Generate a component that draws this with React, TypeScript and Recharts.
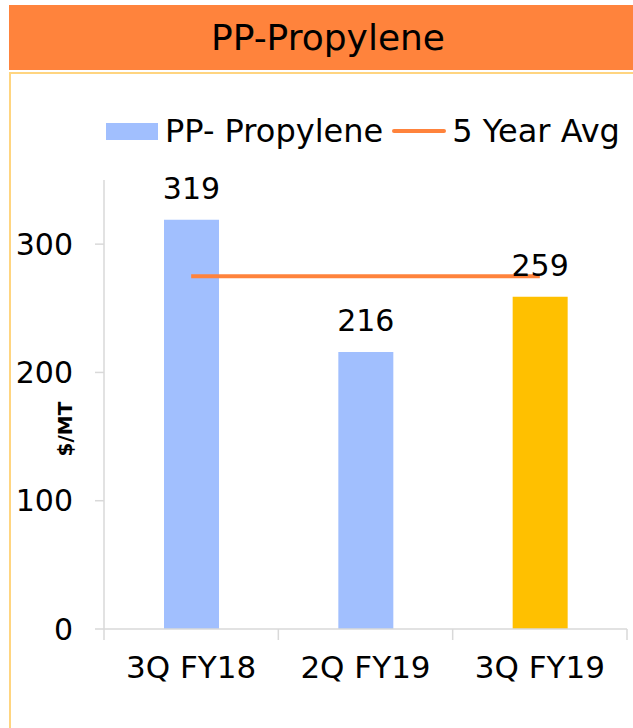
import React from 'react';
import { ComposedChart, Bar, Line, XAxis, YAxis, LabelList, Cell, Legend } from 'recharts';

const FONT = '"DejaVu Sans", Verdana, sans-serif';

const categories = ['3Q FY18', '2Q FY19', '3Q FY19'];
const propyleneValues = [319, 216, 259];
const fiveYearAvg = [275, 275, 275];
const barColors = ['#A1BFFE', '#A1BFFE', '#FFC000'];
const yTicks = [0, 100, 200, 300];
const seriesNames = ['PP- Propylene', '5 Year Avg'];
const titleText = 'PP-Propylene';
const yAxisTitle = '$/MT';

const data = categories.map((c, i) => ({ cat: c, pp: propyleneValues[i], avg: fiveYearAvg[i] }));

const X_TICK_SIZE = 10;
const X_TICK_MARGIN = 17;
const AXIS_COLOR = '#D9D9D9';

const renderLegend = (props: any) => {
  const payload = [...(props.payload || [])].sort(
    (a: any, b: any) => seriesNames.indexOf(a.value) - seriesNames.indexOf(b.value)
  );
  return (
    <div style={{ display: 'flex', alignItems: 'center', height: 38, lineHeight: '38px', fontFamily: FONT, fontSize: 32, color: '#000', paddingLeft: 106 }}>
      {payload.map((entry: any, i: number) => (
        <div key={i} style={{ display: 'flex', alignItems: 'center', marginLeft: i === 0 ? 0 : 9 }}>
          {entry.type === 'line' ? (
            <div style={{ width: 54, height: 4, background: entry.color, borderRadius: 2, marginRight: 6 }} />
          ) : (
            <div style={{ width: 52, height: 17, background: barColors[0], marginRight: 7 }} />
          )}
          <span style={{ whiteSpace: 'nowrap' }}>{entry.value}</span>
        </div>
      ))}
    </div>
  );
};

const CategoryTick = (props: any) => {
  const { x, y, payload, index, visibleTicksCount } = props;
  const half = payload && typeof payload.offset === 'number' ? payload.offset : 0;
  const axisY = y - X_TICK_SIZE - X_TICK_MARGIN;
  const last = index === (visibleTicksCount ?? categories.length) - 1;
  return (
    <g>
      <line x1={x - half} x2={x - half} y1={axisY} y2={axisY + X_TICK_SIZE + 1} stroke={AXIS_COLOR} strokeWidth={1.5} />
      {last && (
        <line x1={x + half} x2={x + half} y1={axisY} y2={axisY + X_TICK_SIZE + 1} stroke={AXIS_COLOR} strokeWidth={1.5} />
      )}
      <text x={x} y={y} dy="0.71em" textAnchor="middle" fontSize={31} fill="#000" fontFamily={FONT}>
        {payload.value}
      </text>
    </g>
  );
};

export default function App() {
  return (
    <div style={{ position: 'absolute', left: 0, top: 0, width: 633, height: 728, overflow: 'hidden', background: '#fff', fontFamily: FONT }}>
      <div style={{ position: 'absolute', left: 9, top: 5, width: 638, height: 65, background: '#FF833C', color: '#000', textAlign: 'center', fontSize: 36, lineHeight: '65px' }}>
        {titleText}
      </div>
      <div style={{ position: 'absolute', left: 9, top: 72, width: 640, height: 700, border: '2px solid #FFD580', boxSizing: 'border-box' }} />
      <div style={{ position: 'absolute', left: 0, top: 0 }}>
        <ComposedChart width={633} height={728} data={data} margin={{ top: 180, right: 6, bottom: 39, left: 0 }}>
          <XAxis
            dataKey="cat"
            height={60}
            tickSize={X_TICK_SIZE}
            tickMargin={X_TICK_MARGIN}
            tickLine={{ stroke: 'none' }}
            axisLine={{ stroke: AXIS_COLOR, strokeWidth: 1.5 }}
            tick={CategoryTick}
            interval={0}
          />
          <YAxis
            width={104}
            domain={[0, 350]}
            ticks={yTicks}
            tickSize={9}
            tickMargin={22}
            axisLine={{ stroke: AXIS_COLOR, strokeWidth: 1.5 }}
            tickLine={{ stroke: AXIS_COLOR, strokeWidth: 1.5 }}
            tick={{ fontSize: 30, fill: '#000', fontFamily: FONT }}
            label={{
              content: () => (
                <text transform="translate(72,429) rotate(-90)" x={0} y={0} textAnchor="middle" fontSize={20} fontWeight="bold" fontFamily={FONT} fill="#000">
                  {yAxisTitle}
                </text>
              ),
            }}
          />
          <Legend
            layout="horizontal"
            verticalAlign="middle"
            align="center"
            content={renderLegend}
            wrapperStyle={{ position: 'absolute', top: 112, left: 0, width: 633 }}
          />
          <Bar dataKey="pp" name={seriesNames[0]} fill={barColors[0]} barSize={55} isAnimationActive={false}>
            {data.map((d, i) => (
              <Cell key={i} fill={barColors[i]} />
            ))}
            <LabelList dataKey="pp" position="top" offset={21} style={{ fontSize: 30, fill: '#000', fontFamily: FONT }} />
          </Bar>
          <Line dataKey="avg" name={seriesNames[1]} stroke="#FF833C" strokeWidth={4} dot={false} activeDot={false} isAnimationActive={false} type="linear" />
        </ComposedChart>
      </div>
    </div>
  );
}
